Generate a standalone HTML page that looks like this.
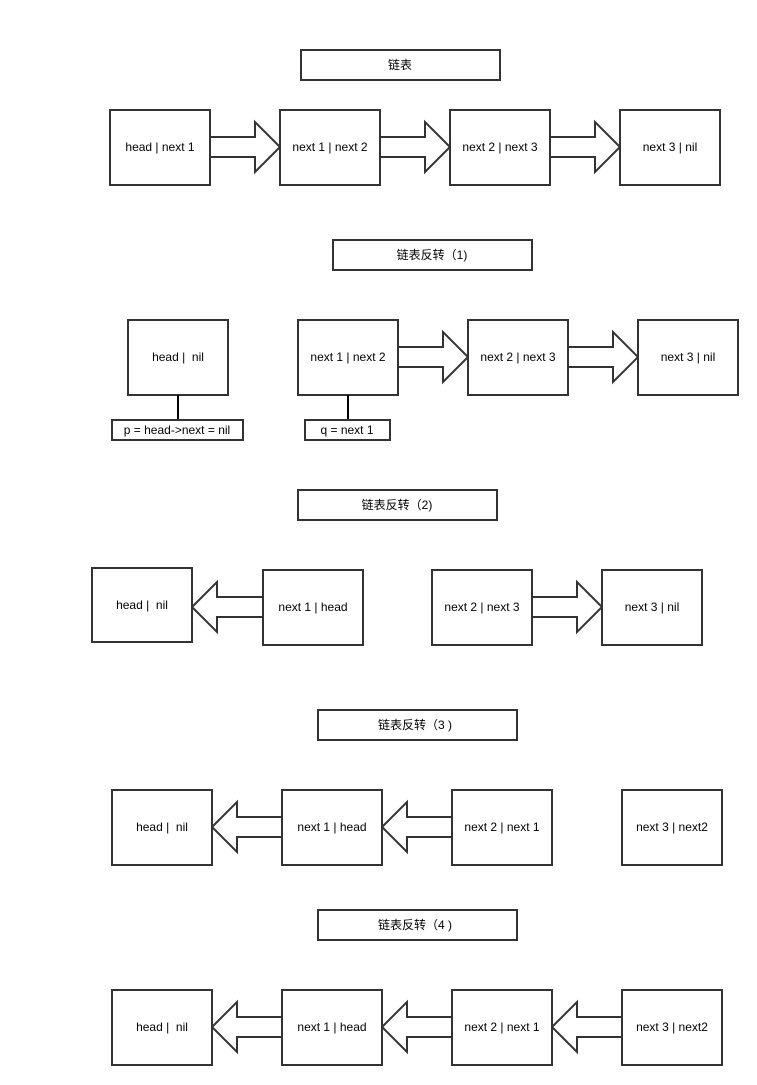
<!DOCTYPE html>
<html><head><meta charset="utf-8"><style>
html,body{margin:0;padding:0;background:#fff}
svg{display:block}
text{font-family:"Liberation Sans","Noto Sans CJK SC",sans-serif;font-size:12px;fill:#000;text-anchor:middle;dominant-baseline:central;white-space:pre}
rect{fill:#fff;stroke:#333;stroke-width:2}
path{fill:#fff;stroke:#333;stroke-width:2;stroke-linejoin:miter}
line{stroke:#000;stroke-width:2}
</style></head><body>
<svg width="757" height="1085" viewBox="0 0 757 1085">
<!-- Row 1 -->
<rect x="301" y="50" width="199" height="30"/><text x="400" y="65">链表</text>
<path d="M210,137 H255 V122 L280,147 L255,172 V157 H210 Z"/>
<path d="M380,137 H425 V122 L450,147 L425,172 V157 H380 Z"/>
<path d="M550,137 H595 V122 L620,147 L595,172 V157 H550 Z"/>
<rect x="110" y="110" width="100" height="75"/><text x="160" y="147">head | next 1</text>
<rect x="280" y="110" width="100" height="75"/><text x="330" y="147">next 1 | next 2</text>
<rect x="450" y="110" width="100" height="75"/><text x="500" y="147">next 2 | next 3</text>
<rect x="620" y="110" width="100" height="75"/><text x="670" y="147">next 3 | nil</text>

<!-- Row 2 -->
<rect x="333" y="240" width="199" height="30"/><text x="432" y="255">链表反转（1)</text>
<path d="M398,347 H443 V332 L468,357 L443,382 V367 H398 Z"/>
<path d="M568,347 H613 V332 L638,357 L613,382 V367 H568 Z"/>
<rect x="128" y="320" width="100" height="75"/><text x="178" y="357">head |  nil</text>
<rect x="298" y="320" width="100" height="75"/><text x="348" y="357">next 1 | next 2</text>
<rect x="468" y="320" width="100" height="75"/><text x="518" y="357">next 2 | next 3</text>
<rect x="638" y="320" width="100" height="75"/><text x="688" y="357">next 3 | nil</text>
<line x1="178" y1="395" x2="178" y2="420"/><line x1="348" y1="395" x2="348" y2="420"/>
<rect x="112" y="420" width="131" height="20"/><text x="177" y="430">p = head-&gt;next = nil</text>
<rect x="305" y="420" width="85" height="20"/><text x="347" y="430">q = next 1</text>

<!-- Row 3 -->
<rect x="298" y="490" width="199" height="30"/><text x="397" y="505">链表反转（2)</text>
<path d="M263,597 H217 V582 L192,607 L217,632 V617 H263 Z"/>
<path d="M532,597 H577 V582 L602,607 L577,632 V617 H532 Z"/>
<rect x="92" y="568" width="100" height="74"/><text x="142" y="605">head |  nil</text>
<rect x="263" y="570" width="100" height="75"/><text x="313" y="607">next 1 | head</text>
<rect x="432" y="570" width="100" height="75"/><text x="482" y="607">next 2 | next 3</text>
<rect x="602" y="570" width="100" height="75"/><text x="652" y="607">next 3 | nil</text>

<!-- Row 4 -->
<rect x="318" y="710" width="199" height="30"/><text x="415" y="725">链表反转（3 )</text>
<path d="M282,817 H237 V802 L212,827 L237,852 V837 H282 Z"/>
<path d="M452,817 H407 V802 L382,827 L407,852 V837 H452 Z"/>
<rect x="112" y="790" width="100" height="75"/><text x="162" y="827">head |  nil</text>
<rect x="282" y="790" width="100" height="75"/><text x="332" y="827">next 1 | head</text>
<rect x="452" y="790" width="100" height="75"/><text x="502" y="827">next 2 | next 1</text>
<rect x="622" y="790" width="100" height="75"/><text x="672" y="827">next 3 | next2</text>

<!-- Row 5 -->
<rect x="318" y="910" width="199" height="30"/><text x="415" y="925">链表反转（4 )</text>
<path d="M282,1017 H237 V1002 L212,1027 L237,1052 V1037 H282 Z"/>
<path d="M452,1017 H407 V1002 L382,1027 L407,1052 V1037 H452 Z"/>
<path d="M622,1017 H577 V1002 L552,1027 L577,1052 V1037 H622 Z"/>
<rect x="112" y="990" width="100" height="75"/><text x="162" y="1027">head |  nil</text>
<rect x="282" y="990" width="100" height="75"/><text x="332" y="1027">next 1 | head</text>
<rect x="452" y="990" width="100" height="75"/><text x="502" y="1027">next 2 | next 1</text>
<rect x="622" y="990" width="100" height="75"/><text x="672" y="1027">next 3 | next2</text>
</svg>
</body></html>
